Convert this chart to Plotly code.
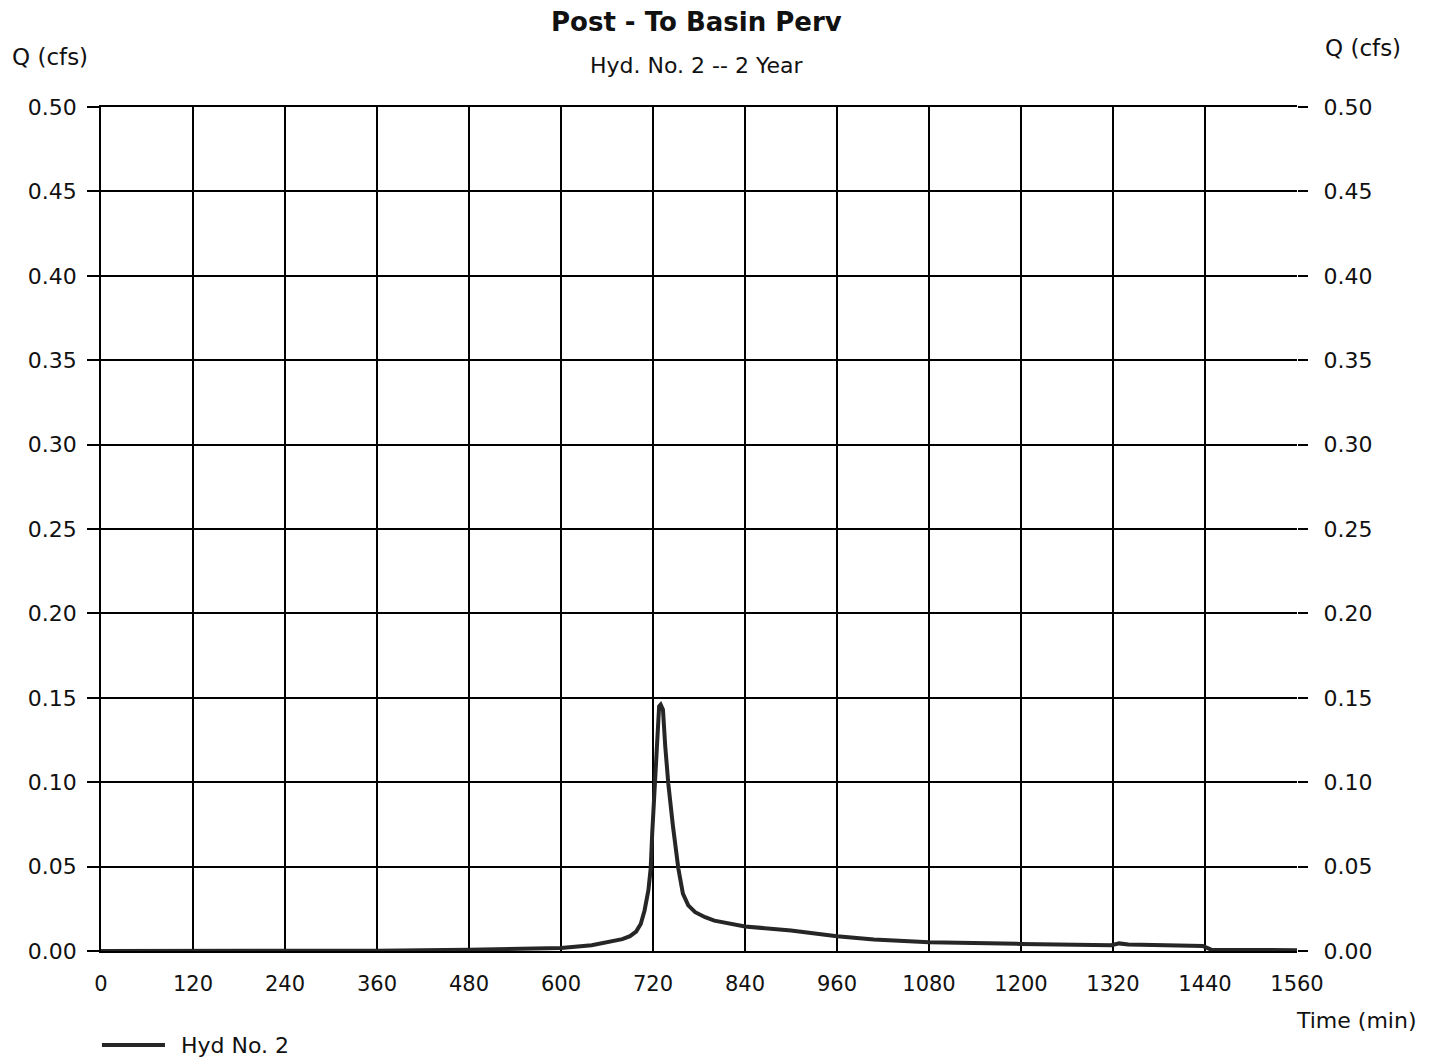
import plotly.graph_objects as go

# Hydrograph ordinates for Hyd. No. 2 (2-year storm)
time_min = [0, 120, 240, 360, 480, 540, 600, 640, 660, 680, 690, 698, 704, 709,
            714, 717, 719, 722, 725, 728, 730, 733, 736, 740, 746, 753, 759, 766,
            775, 788, 800, 840, 900, 960, 1008, 1080, 1200, 1300, 1318, 1328,
            1340, 1437, 1448, 1560]
flow_cfs = [0.0, 0.0, 0.0, 0.0002, 0.0008, 0.0012, 0.0018, 0.0034, 0.0050,
            0.0070, 0.0088, 0.0115, 0.0160, 0.0240, 0.0360, 0.0490, 0.0700,
            0.0990, 0.1270, 0.1450, 0.1460, 0.1430, 0.1210, 0.0990, 0.0740,
            0.0490, 0.0340, 0.0270, 0.0230, 0.0200, 0.0180, 0.0145, 0.0122,
            0.0088, 0.0068, 0.0052, 0.0042, 0.0035, 0.0034, 0.0045, 0.0038,
            0.0030, 0.0008, 0.0005]

x_ticks = list(range(0, 1561, 120))
y_ticks = [0.00, 0.05, 0.10, 0.15, 0.20, 0.25, 0.30, 0.35, 0.40, 0.45, 0.50]
y_tick_text = [f"{v:.2f}" for v in y_ticks]

chart_title = "Post - To Basin Perv"
chart_subtitle = "Hyd. No. 2 -- 2 Year"
series_name = "Hyd No. 2"

FONT = "DejaVu Sans, Arial, sans-serif"
INK = "#111111"
LINE = "#262626"

fig = go.Figure()
fig.add_trace(go.Scatter(
    x=time_min, y=flow_cfs, mode="lines", name=series_name,
    line=dict(color=LINE, width=4), showlegend=False,
))
# invisible companion trace to activate the right-hand axis
fig.add_trace(go.Scatter(
    x=[time_min[0]], y=[flow_cfs[0]], yaxis="y2", mode="lines",
    line=dict(width=0), showlegend=False, hoverinfo="skip",
))

fig.update_layout(
    width=1434, height=1059,
    margin=dict(l=101, r=137, t=107, b=108),
    paper_bgcolor="white", plot_bgcolor="white",
    font=dict(family=FONT, size=21, color=INK),
    xaxis=dict(
        range=[0, 1560], tickvals=x_ticks, ticktext=[str(v) for v in x_ticks],
        showgrid=True, gridcolor="#000000", gridwidth=1.6,
        showline=True, linecolor="#000000", linewidth=1.6, mirror=True,
        ticks="", ticklabelstandoff=13, zeroline=False,
        tickfont=dict(size=21, color=INK),
    ),
    yaxis=dict(
        range=[0, 0.5], tickvals=y_ticks, ticktext=y_tick_text,
        showgrid=True, gridcolor="#000000", gridwidth=1.6,
        showline=True, linecolor="#000000", linewidth=1.6,
        ticks="outside", ticklen=12, tickcolor="#000000", tickwidth=1.6,
        ticklabelstandoff=6, zeroline=False,
        tickfont=dict(size=22, color=INK),
    ),
    yaxis2=dict(
        range=[0, 0.5], tickvals=y_ticks, ticktext=y_tick_text,
        overlaying="y", side="right", showgrid=False, zeroline=False,
        showline=False,
        ticks="outside", ticklen=10, tickcolor="#000000", tickwidth=1.6,
        ticklabelstandoff=11,
        tickfont=dict(size=22, color=INK),
    ),
)

annotations = [
    dict(text=f"<b>{chart_title}</b>", x=0.4983, y=1.1007, font=dict(size=26),
         xanchor="center", yanchor="middle"),
    dict(text=chart_subtitle, x=0.4983, y=1.0486, font=dict(size=22),
         xanchor="center", yanchor="middle"),
    dict(text="Q (cfs)", x=-0.0761, y=1.0592, font=dict(size=23),
         xanchor="left", yanchor="middle"),
    dict(text="Q (cfs)", x=1.0217, y=1.0699, font=dict(size=23),
         xanchor="left", yanchor="middle"),
    dict(text="Time (min)", x=1.1020, y=-0.0818, font=dict(size=22),
         xanchor="right", yanchor="middle"),
    dict(text=series_name, x=0.0652, y=-0.1114, font=dict(size=22),
         xanchor="left", yanchor="middle"),
]
for a in annotations:
    fig.add_annotation(xref="paper", yref="paper", showarrow=False, **a)

# legend swatch for the hydrograph line
fig.add_shape(type="line", xref="paper", yref="paper",
              x0=0.0008, x1=0.0535, y0=-0.1114, y1=-0.1114,
              line=dict(color=LINE, width=4))

fig.write_html("out.html")
